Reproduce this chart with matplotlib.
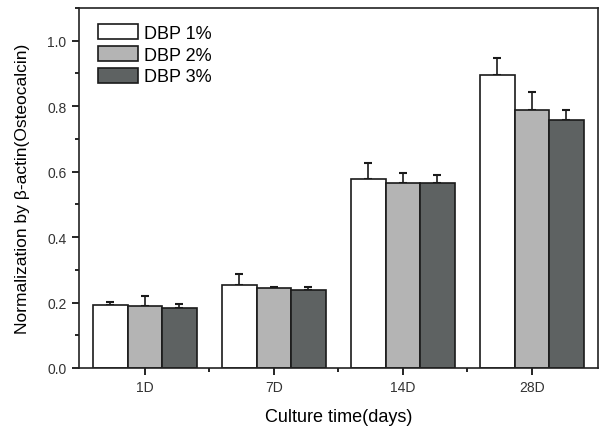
import numpy as np
import matplotlib.pyplot as plt
from matplotlib.ticker import MultipleLocator, FixedLocator

plt.rcParams['font.family'] = ['Liberation Sans', 'DejaVu Sans']

# data
days = ['1D', '7D', '14D', '28D']
series = ['DBP 1%', 'DBP 2%', 'DBP 3%']
dbp1 = [0.193, 0.254, 0.578, 0.896]
dbp2 = [0.190, 0.245, 0.566, 0.789]
dbp3 = [0.183, 0.238, 0.566, 0.758]
err1 = [0.009, 0.033, 0.049, 0.052]
err2 = [0.030, 0.003, 0.030, 0.055]
err3 = [0.012, 0.010, 0.024, 0.031]

colors = ['#ffffff', '#b4b4b4', '#5e6262']

fig = plt.figure(figsize=(6.05, 4.31), dpi=100)
ax = fig.add_axes([0.1306, 0.1439, 0.8574, 0.8351])

x = np.arange(1, len(days) + 1)
w = 0.267
for i, (vals, errs) in enumerate(zip([dbp1, dbp2, dbp3], [err1, err2, err3])):
    pos = x + (i - 1) * w
    ax.bar(pos, vals, w, color=colors[i], edgecolor='#1a1a1a', linewidth=1.2,
           label=series[i], zorder=2)
    ax.errorbar(pos, vals, yerr=[np.zeros(len(errs)), errs], fmt='none',
                ecolor='#1a1a1a', elinewidth=1.2, capsize=3, capthick=1.5, zorder=1)

ax.set_xlim(0.49, 4.51)
ax.set_ylim(0, 1.1)
ax.set_xticks(x)
ax.set_xticklabels(days)
ax.xaxis.set_minor_locator(FixedLocator([1.5, 2.5, 3.5]))
ax.yaxis.set_major_locator(MultipleLocator(0.2))
ax.yaxis.set_minor_locator(MultipleLocator(0.1))
ax.yaxis.set_major_formatter(plt.FormatStrFormatter('%.1f'))

ax.tick_params(which='major', direction='out', length=5, width=1.2, labelsize=10,
               labelcolor='#333333', pad=4)
ax.tick_params(which='minor', direction='out', length=3, width=1.2)
for s in ax.spines.values():
    s.set_linewidth(1.2)
    s.set_color('#222222')

ax.set_xlabel('Culture time(days)', fontsize=13, labelpad=10)
ax.set_ylabel('Normalization by β-actin(Osteocalcin)', fontsize=12.5, labelpad=12)

ax.legend(loc='upper left', frameon=False, fontsize=13, handlelength=2.2,
          handleheight=0.9, handletextpad=0.35, labelspacing=0.22,
          bbox_to_anchor=(0.012, 0.99), borderaxespad=0.3)

fig.savefig('out.png', dpi=100)
